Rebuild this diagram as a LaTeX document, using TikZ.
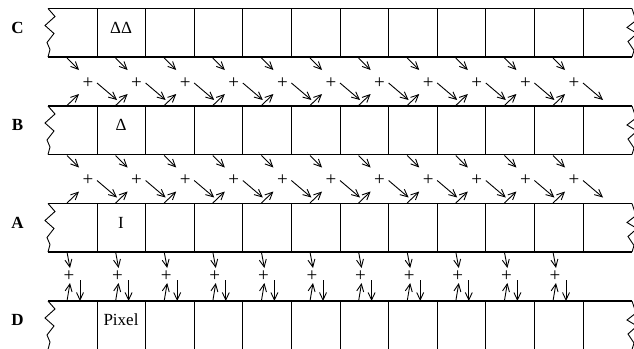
\documentclass[tikz,border=0pt]{standalone}
\usepackage{fontspec}
\setmainfont{Liberation Serif}
\usetikzlibrary{arrows.meta}

\begin{document}
\begin{tikzpicture}[x=1pt,y=-1pt,>={Straight Barb[length=7.5pt,width=7pt]},
    rowline/.style={line width=1.7pt},
    cellline/.style={line width=1pt},
    edgeline/.style={line width=0.9pt},
    arr/.style={->,line width=0.9pt},
    rowlab/.style={font=\fontsize{17}{20}\selectfont\bfseries,anchor=base},
    celllab/.style={font=\fontsize{17}{20}\selectfont,anchor=base},
    plus/.style={font=\fontsize{19}{22}\selectfont,inner sep=0pt}]
    \useasboundingbox (0,0) rectangle (634,348);
    \clip (0,0) rectangle (634,348);
    \def\w{48.6} \def\h{48.5} \def\dy{97.5}
    % the four rows of cells
    \foreach \r/\lab/\txt in {0/C/ΔΔ,1/B/Δ,2/A/I,3/D/Pixel}{
      \pgfmathsetmacro\t{8.5+\dy*\r}
      \draw[rowline] (48,\t) -- (632,\t);
      \draw[rowline] (48,\t+\h) -- (632,\t+\h);
      \foreach \k in {0,...,10}{ \draw[cellline] (97+\w*\k,\t) -- (97+\w*\k,\t+\h); }
      \draw[edgeline] (48,\t) -- (55,\t+8) -- (45,\t+17) -- (54,\t+25)
        -- (47,\t+34) -- (50,\t+41) -- (48,\t+\h);
      \draw[edgeline] (632,\t) -- (636,\t+12) -- (627,\t+19) -- (637,\t+25)
        -- (628,\t+33) -- (634,\t+42) -- (632,\t+\h);
      \node[rowlab] (lab\lab) at (17.5,\t+24.5) {\lab};
      \node[celllab] (cell\lab) at (121,\t+24.5) {\txt};
    }
    % C->B and B->A
    \foreach \g in {0,1}{ \foreach \i in {0,...,10}{
      \pgfmathsetmacro\x{67+\w*\i} \pgfmathsetmacro\b{57+\dy*\g}
      \node[plus] (p\g\i) at (\x+21,\b+26) {+};
      \coordinate (dn\g\i) at (\x,\b+1);   \coordinate (dt\g\i) at (\x+12,\b+13);
      \coordinate (ln\g\i) at (\x+30,\b+26); \coordinate (lt\g\i) at (\x+50,\b+43);
      \coordinate (up\g\i) at (\x,\b+48.5); \coordinate (ut\g\i) at (\x+12,\b+37);
      \draw[arr] (dn\g\i) -- (dt\g\i);
      \draw[arr] (ln\g\i) -- (lt\g\i);
      \draw[arr] (up\g\i) -- (ut\g\i);
    }}
    % A->D
    \foreach \i in {0,...,10}{
      \pgfmathsetmacro\x{67+\w*\i} \def\b{252}
      \node[plus] (p2\i) at (\x+2,\b+24) {+};
      \coordinate (dn2\i) at (\x,\b);      \coordinate (dt2\i) at (\x+3,\b+16);
      \coordinate (ln2\i) at (\x+13,\b+28); \coordinate (lt2\i) at (\x+13,\b+49);
      \coordinate (up2\i) at (\x,\b+49);   \coordinate (ut2\i) at (\x+3,\b+31);
      \draw[arr] (dn2\i) -- (dt2\i);
      \draw[arr] (ln2\i) -- (lt2\i);
      \draw[arr] (up2\i) -- (ut2\i);
    }
  \end{tikzpicture}
\end{document}
